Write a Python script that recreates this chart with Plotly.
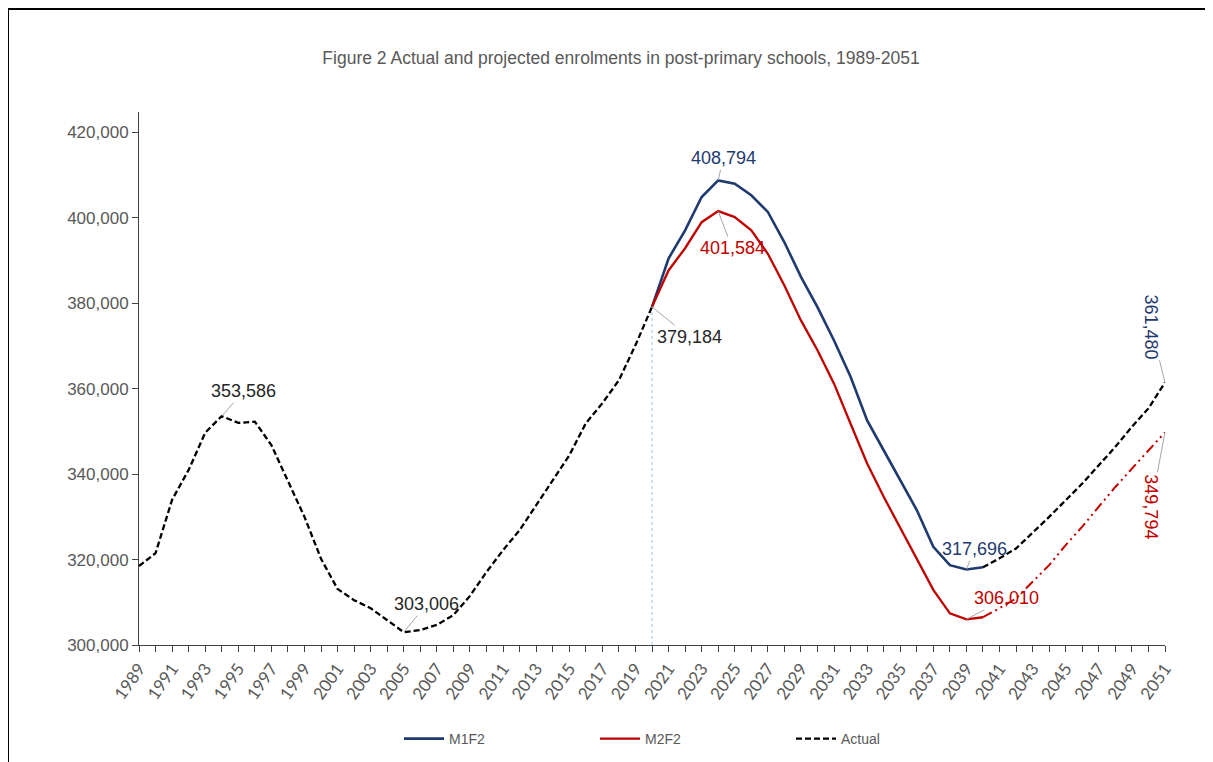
import plotly.graph_objects as go

years_actual = list(range(1989, 2021))
actual = [318500, 321500, 334000, 341000, 349700, 353586, 352000, 352300, 346800,
          338600, 330000, 320200, 313100, 310500, 308600, 305800, 303006, 303500,
          304700, 307000, 311500, 317100, 322200, 326900, 332700, 338600, 344400,
          351900, 356600, 362000, 370200, 379184]

years_proj = list(range(2020, 2052))
m1f2 = [379184, 390500, 397100, 404900, 408794, 408000, 405300, 401400, 394300,
        386200, 379100, 371300, 362800, 352600, 345600, 338600, 331600, 323000,
        318700, 317696, 318200, 320300, 322600, 326200, 330000, 333900, 337800,
        342100, 346400, 351100, 355400, 361480]
m2f2 = [379184, 387700, 392900, 399000, 401584, 400200, 397100, 391600, 384200,
        376000, 369000, 361200, 351800, 342500, 334700, 327400, 319900, 312900,
        307400, 306010, 306500, 308600, 310900, 314800, 318700, 323400, 327700,
        332400, 337000, 341300, 345600, 349794]

split_year = 2040
y_ticks = list(range(300000, 420001, 20000))
x_label_years = list(range(1989, 2052, 2))

NAVY = "#1f3a6e"
RED = "#c00000"
GRAY_TXT = "#595959"

k = years_proj.index(split_year)

fig = go.Figure()
fig.add_trace(go.Scatter(x=years_proj[:k + 1], y=m1f2[:k + 1], mode="lines", name="M1F2",
                         line=dict(color=NAVY, width=2.6)))
fig.add_trace(go.Scatter(x=years_proj[:k + 1], y=m2f2[:k + 1], mode="lines", name="M2F2",
                         line=dict(color=RED, width=2.3)))
fig.add_trace(go.Scatter(x=years_actual, y=actual, mode="lines", name="Actual",
                         line=dict(color="black", width=2.3, dash="6px,3px")))
fig.add_trace(go.Scatter(x=years_proj[k:], y=m1f2[k:], mode="lines", showlegend=False,
                         line=dict(color="black", width=2.3, dash="6px,3px")))
fig.add_trace(go.Scatter(x=years_proj[k:], y=m2f2[k:], mode="lines", showlegend=False,
                         line=dict(color=RED, width=2, dash="10px,4px,2px,4px,2px,4px")))

# vertical dotted marker at the last actual year
fig.add_shape(type="line", xref="x", yref="y", x0=years_actual[-1], x1=years_actual[-1],
              y0=y_ticks[0], y1=actual[-1], line=dict(color="#9dc3e6", width=1, dash="dot"),
              layer="below")

def ann(x, y, txt, color, ax, ay, angle=0):
    fig.add_annotation(x=x, y=y, text=txt, showarrow=True, arrowhead=0, arrowwidth=1,
                       arrowcolor="#a6a6a6", ax=ax, ay=ay, textangle=angle,
                       font=dict(family="Liberation Sans, Arial", size=18, color=color))

i_peak = actual.index(max(actual[:12]))
i_trough = actual.index(min(actual))
ann(years_actual[i_peak], actual[i_peak], f"{actual[i_peak]:,}", "#262626", 22, -25)
ann(years_actual[i_trough], actual[i_trough], f"{actual[i_trough]:,}", "#262626", 23, -28)
ann(years_actual[-1], actual[-1], f"{actual[-1]:,}", "#262626", 37, 30)
i1 = m1f2.index(max(m1f2)); i2 = m2f2.index(max(m2f2))
ann(years_proj[i1], m1f2[i1], f"{m1f2[i1]:,}", NAVY, 5, -22)
ann(years_proj[i2], m2f2[i2], f"{m2f2[i2]:,}", RED, 14, 37)
j1 = m1f2.index(min(m1f2)); j2 = m2f2.index(min(m2f2))
ann(years_proj[j1], m1f2[j1], f"{m1f2[j1]:,}", NAVY, 8, -20)
ann(years_proj[j2], m2f2[j2], f"{m2f2[j2]:,}", RED, 40, -21)
ann(years_proj[-1], m1f2[-1], f"{m1f2[-1]:,}", NAVY, -14, -56, 90)
ann(years_proj[-1], m2f2[-1], f"{m2f2[-1]:,}", RED, -14, 74, 90)

# page frame (figure sits 8px inside the page)
L, T, R, B = 131, 104, 56, 125
W, H = 1213, 762
pw, ph = W - L - R, H - T - B
fx = lambda px: (px - L) / pw
fy = lambda py: (H - B - py) / ph
fig.add_shape(type="line", xref="paper", yref="paper", x0=fx(0), x1=fx(W), y0=fy(0.5), y1=fy(0.5),
              line=dict(color="black", width=3))
fig.add_shape(type="line", xref="paper", yref="paper", x0=fx(0), x1=fx(0), y0=fy(H), y1=fy(0),
              line=dict(color="black", width=2))
fig.add_shape(type="line", xref="paper", yref="paper", x0=fx(1204), x1=fx(1204), y0=fy(H), y1=fy(2),
              line=dict(color="#d0d0d0", width=1))

fig.update_layout(
    width=W, height=H,
    margin=dict(l=L, r=R, t=T, b=B),
    paper_bgcolor="white", plot_bgcolor="white",
    title=dict(text="Figure 2 Actual and projected enrolments in post-primary schools, 1989-2051",
               x=fx(613), xanchor="center", xref="paper", y=1 - 50 / H, yanchor="middle",
               font=dict(family="Liberation Sans, Arial", size=17.5, color=GRAY_TXT)),
    showlegend=True,
    legend=dict(orientation="h", x=fx(391), xanchor="left", y=fy(731), yanchor="middle",
                font=dict(family="Liberation Sans, Arial", size=14, color=GRAY_TXT),
                entrywidth=141, itemwidth=40, traceorder="normal"),
    font=dict(family="Liberation Sans, Arial"),
)
fig.update_xaxes(range=[1989, 2051], tickmode="array", tickvals=x_label_years,
                 ticktext=[str(v) for v in x_label_years], tickangle=-55,
                 ticks="outside", ticklen=6, tickcolor="#404040",
                 minor=dict(dtick=1, tick0=1989, ticks="outside", ticklen=6, tickcolor="#404040"),
                 showline=True, linecolor="#404040", linewidth=1, showgrid=False, zeroline=False,
                 tickfont=dict(family="Lato, Carlito, Calibri", size=17, color=GRAY_TXT))
fig.update_yaxes(range=[300000, 424800], tickmode="array", tickvals=y_ticks, tickformat=",",
                 ticks="outside", ticklen=6, tickcolor="#404040",
                 showline=True, linecolor="#404040", linewidth=1, showgrid=False, zeroline=False,
                 tickfont=dict(family="Liberation Sans, Arial", size=17, color=GRAY_TXT))

fig.write_html("out.html")
